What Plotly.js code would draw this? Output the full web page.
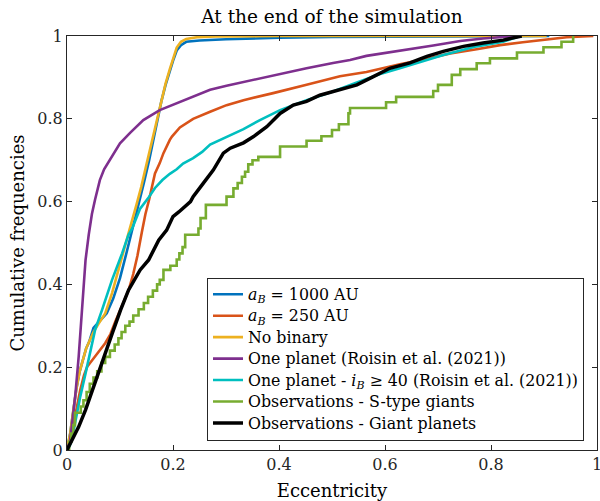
<!DOCTYPE html>
<html>
<head>
<meta charset="utf-8">
<script src="https://cdn.plot.ly/plotly-3.0.1.min.js"></script>
<style>html,body{margin:0;padding:0;background:#fff;}#chart{width:600px;height:501px;}</style>
</head>
<body>
<div id="chart"></div>
<script>
// ---- data ----
var blueX = [0, 0.006, 0.012, 0.018, 0.024, 0.030, 0.036, 0.042, 0.050, 0.062, 0.075, 0.087, 0.100, 0.113, 0.125, 0.135, 0.145, 0.155, 0.162, 0.169, 0.178, 0.186, 0.194, 0.200, 0.207, 0.215, 0.225, 0.25, 0.30, 0.40, 0.50, 0.70, 0.90, 0.91];
var blueY = [0, 0.04, 0.095, 0.15, 0.19, 0.22, 0.245, 0.262, 0.295, 0.312, 0.330, 0.365, 0.415, 0.480, 0.540, 0.590, 0.645, 0.700, 0.745, 0.792, 0.842, 0.882, 0.917, 0.940, 0.965, 0.978, 0.986, 0.989, 0.992, 0.996, 0.998, 0.999, 0.999, 1.0];

var redX = [0, 0.006, 0.015, 0.025, 0.032, 0.038, 0.047, 0.059, 0.072, 0.082, 0.091, 0.103, 0.116, 0.125, 0.133, 0.141, 0.148, 0.155, 0.166, 0.175, 0.182, 0.194, 0.198, 0.213, 0.238, 0.270, 0.301, 0.333, 0.364, 0.389, 0.452, 0.515, 0.565, 0.628, 0.680, 0.723, 0.773, 0.817, 0.860, 0.899, 0.943, 0.993];
var redY = [0, 0.03, 0.080, 0.145, 0.18, 0.201, 0.215, 0.236, 0.258, 0.280, 0.310, 0.345, 0.385, 0.425, 0.470, 0.525, 0.570, 0.605, 0.668, 0.693, 0.717, 0.749, 0.757, 0.779, 0.800, 0.817, 0.833, 0.845, 0.854, 0.862, 0.882, 0.903, 0.913, 0.932, 0.945, 0.958, 0.968, 0.978, 0.985, 0.990, 0.997, 1.0];

var yellowX = [0, 0.006, 0.012, 0.018, 0.024, 0.030, 0.036, 0.042, 0.050, 0.060, 0.072, 0.085, 0.095, 0.107, 0.119, 0.131, 0.140, 0.150, 0.160, 0.169, 0.178, 0.186, 0.194, 0.200, 0.207, 0.215, 0.225, 0.245, 0.28, 0.4, 0.6, 0.8, 0.905];
var yellowY = [0, 0.04, 0.097, 0.15, 0.19, 0.22, 0.245, 0.262, 0.285, 0.306, 0.330, 0.379, 0.427, 0.483, 0.537, 0.592, 0.635, 0.690, 0.745, 0.797, 0.845, 0.885, 0.920, 0.945, 0.972, 0.986, 0.993, 0.997, 0.999, 1.0, 1.0, 1.0, 1.0];

var purpleX = [0, 0.006, 0.011, 0.016, 0.022, 0.025, 0.028, 0.031, 0.035, 0.041, 0.047, 0.053, 0.062, 0.070, 0.081, 0.100, 0.119, 0.144, 0.175, 0.207, 0.238, 0.270, 0.301, 0.333, 0.364, 0.400, 0.452, 0.502, 0.534, 0.565, 0.628, 0.691, 0.742, 0.785, 0.848];
var purpleY = [0, 0.024, 0.080, 0.137, 0.225, 0.285, 0.338, 0.403, 0.459, 0.520, 0.570, 0.605, 0.652, 0.678, 0.700, 0.741, 0.766, 0.797, 0.821, 0.837, 0.854, 0.870, 0.880, 0.889, 0.899, 0.908, 0.922, 0.935, 0.942, 0.952, 0.964, 0.977, 0.988, 0.994, 1.0];

var cyanX = [0, 0.005, 0.009, 0.014, 0.019, 0.025, 0.035, 0.044, 0.053, 0.066, 0.085, 0.104, 0.116, 0.123, 0.138, 0.154, 0.166, 0.180, 0.194, 0.207, 0.219, 0.238, 0.255, 0.270, 0.301, 0.333, 0.364, 0.402, 0.452, 0.502, 0.547, 0.591, 0.628, 0.666, 0.710, 0.773, 0.823, 0.855];
var cyanY = [0, 0.010, 0.024, 0.060, 0.089, 0.129, 0.185, 0.242, 0.290, 0.338, 0.411, 0.475, 0.520, 0.535, 0.583, 0.610, 0.633, 0.652, 0.667, 0.678, 0.692, 0.705, 0.720, 0.738, 0.757, 0.775, 0.797, 0.821, 0.845, 0.866, 0.888, 0.908, 0.922, 0.936, 0.954, 0.975, 0.986, 1.0];

var greenX = [0, 0.004, 0.008, 0.012, 0.015, 0.026, 0.031, 0.037, 0.043, 0.050, 0.057, 0.065, 0.072, 0.081, 0.090, 0.097, 0.103, 0.110, 0.118, 0.125, 0.135, 0.145, 0.153, 0.162, 0.170, 0.175, 0.182, 0.195, 0.207, 0.212, 0.218, 0.223, 0.248, 0.252, 0.262, 0.301, 0.314, 0.322, 0.330, 0.336, 0.342, 0.350, 0.361, 0.402, 0.452, 0.480, 0.500, 0.513, 0.531, 0.534, 0.602, 0.621, 0.691, 0.700, 0.726, 0.742, 0.773, 0.798, 0.849, 0.899, 0.933, 0.955];
var greenY = [0, 0.02, 0.04, 0.06, 0.09, 0.105, 0.12, 0.14, 0.16, 0.175, 0.19, 0.21, 0.225, 0.24, 0.255, 0.27, 0.285, 0.30, 0.31, 0.325, 0.34, 0.355, 0.37, 0.385, 0.40, 0.411, 0.435, 0.445, 0.46, 0.475, 0.49, 0.52, 0.535, 0.56, 0.592, 0.612, 0.632, 0.645, 0.66, 0.672, 0.69, 0.70, 0.708, 0.733, 0.747, 0.758, 0.773, 0.787, 0.813, 0.826, 0.84, 0.853, 0.867, 0.882, 0.906, 0.92, 0.934, 0.946, 0.96, 0.973, 0.986, 1.0];

var blackX = [0, 0.009, 0.022, 0.035, 0.050, 0.063, 0.072, 0.080, 0.086, 0.101, 0.116, 0.138, 0.154, 0.173, 0.188, 0.200, 0.211, 0.233, 0.238, 0.257, 0.276, 0.295, 0.308, 0.333, 0.352, 0.377, 0.402, 0.427, 0.452, 0.477, 0.515, 0.547, 0.578, 0.609, 0.647, 0.679, 0.710, 0.748, 0.785, 0.823, 0.858];
var blackY = [0, 0.024, 0.056, 0.097, 0.153, 0.201, 0.233, 0.268, 0.284, 0.338, 0.386, 0.435, 0.459, 0.507, 0.531, 0.564, 0.575, 0.600, 0.612, 0.644, 0.676, 0.717, 0.729, 0.742, 0.757, 0.781, 0.813, 0.833, 0.842, 0.857, 0.870, 0.882, 0.902, 0.922, 0.935, 0.951, 0.963, 0.975, 0.983, 0.990, 1.0];

var seriesNames = [
  '<i>a<sub>B</sub></i> = 1000 AU',
  '<i>a<sub>B</sub></i> = 250 AU',
  'No binary',
  'One planet (Roisin et al. (2021))',
  'One planet - <i>i<sub>B</sub></i> ≥ 40 (Roisin et al. (2021))',
  'Observations - S-type giants',
  'Observations - Giant planets'
];
var seriesColors = ['#0072BD', '#D95319', '#EDB120', '#7E2F8E', '#00BFBF', '#77AC30', '#000000'];
var xTickVals = [0, 0.2, 0.4, 0.6, 0.8, 1];
var xTickText = ['0', '0.2', '0.4', '0.6', '0.8', '1'];
var yTickVals = [0, 0.2, 0.4, 0.6, 0.8, 1];
var yTickText = ['0', '0.2', '0.4', '0.6', '0.8', '1'];

var FONT = 'DejaVu Serif';
var xs = [blueX, redX, yellowX, purpleX, cyanX, greenX, blackX];
var ys = [blueY, redY, yellowY, purpleY, cyanY, greenY, blackY];
var traces = xs.map(function (x, i) {
  return {
    x: x, y: ys[i], type: 'scatter', mode: 'lines',
    name: '<span style="font-size:15.8px">' + seriesNames[i] + '</span>',
    line: {color: seriesColors[i], width: i === 6 ? 3.5 : 2.6, shape: i === 5 ? 'hv' : 'linear'},
    hoverinfo: 'skip'
  };
});

var axisCommon = {
  range: [0, 1], showgrid: false, zeroline: false,
  showline: true, linecolor: '#262626', linewidth: 1, mirror: 'ticks',
  ticks: 'inside', ticklen: 5, tickwidth: 1, tickcolor: '#262626',
  ticklabeloverflow: 'allow',
  tickfont: {family: FONT, size: 16, color: '#262626'}
};
var layout = {
  width: 600, height: 501,
  margin: {l: 67, r: 3, t: 36, b: 51},
  paper_bgcolor: '#ffffff', plot_bgcolor: '#ffffff',
  font: {family: FONT},
  title: {text: 'At the end of the simulation', font: {family: FONT, size: 18.5, color: '#000'},
          x: 0.5, xref: 'paper', xanchor: 'center', y: 1 - 17 / 501, yref: 'container', yanchor: 'middle'},
  xaxis: Object.assign({}, axisCommon, {tickvals: xTickVals, ticktext: xTickText,
          title: {text: 'Eccentricity', font: {family: FONT, size: 18, color: '#000'}, standoff: 13}}),
  yaxis: Object.assign({}, axisCommon, {tickvals: yTickVals, ticktext: yTickText,
          title: {text: 'Cumulative frequencies', font: {family: FONT, size: 18, color: '#000'}, standoff: 8}}),
  showlegend: true,
  legend: {x: (207 - 67) / 530, xanchor: 'left', y: (450 - 440.5) / 414, yanchor: 'bottom',
           bgcolor: '#ffffff', bordercolor: '#262626', borderwidth: 1,
           font: {family: FONT, size: 14.2, color: '#000'}, itemwidth: 30, tracegroupgap: 0},
  hovermode: false
};
Plotly.newPlot('chart', traces, layout, {displayModeBar: false, staticPlot: true});
</script>
</body>
</html>
